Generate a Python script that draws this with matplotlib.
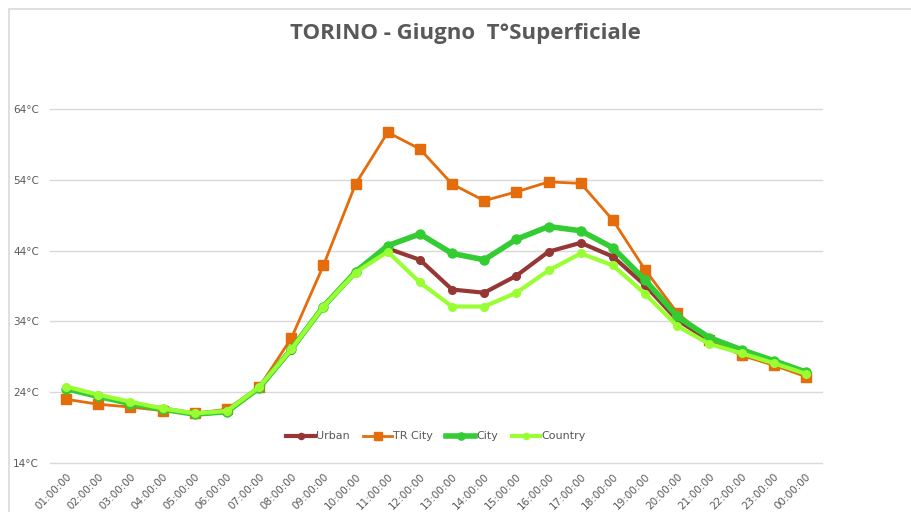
import matplotlib.pyplot as plt
from matplotlib.patches import Rectangle

# dati (°C)
hours = ["01:00:00", "02:00:00", "03:00:00", "04:00:00", "05:00:00", "06:00:00",
         "07:00:00", "08:00:00", "09:00:00", "10:00:00", "11:00:00", "12:00:00",
         "13:00:00", "14:00:00", "15:00:00", "16:00:00", "17:00:00", "18:00:00",
         "19:00:00", "20:00:00", "21:00:00", "22:00:00", "23:00:00", "00:00:00"]

urban = [24.5, 23.4, 22.4, 21.6, 20.9, 21.25, 24.6, 30.0, 36.1, 41.0, 44.3, 42.7,
         38.5, 38.05, 40.45, 43.85, 45.1, 43.15, 39.1, 34.2, 31.3, 29.6, 28.1, 26.5]
tr_city = [23.0, 22.3, 21.9, 21.4, 21.0, 21.6, 24.7, 31.6, 41.9, 53.4, 60.7, 58.35,
           53.4, 51.05, 52.3, 53.7, 53.5, 48.3, 41.3, 35.2, 31.4, 29.2, 27.8, 26.2]
city = [24.5, 23.4, 22.4, 21.6, 20.9, 21.25, 24.6, 30.05, 36.1, 41.0, 44.7, 46.35,
        43.6, 42.7, 45.6, 47.4, 46.8, 44.4, 39.85, 34.7, 31.7, 30.0, 28.45, 26.85]
country = [24.8, 23.65, 22.65, 21.7, 21.0, 21.35, 24.7, 30.05, 36.1, 40.9, 43.85, 39.5,
           36.1, 36.1, 38.05, 41.2, 43.6, 41.9, 37.9, 33.35, 30.8, 29.5, 28.1, 26.6]

y_ticks = [14, 24, 34, 44, 54, 64]

W, H = 911, 512
fig = plt.figure(figsize=(W / 100, H / 100), dpi=100)
fig.patch.set_facecolor("white")

# bordo del grafico (stile Excel)
fig.patches.append(Rectangle((9 / W, -0.1), 1.2, 1 - 9 / H + 0.1, transform=fig.transFigure,
                             fill=False, edgecolor="#d9d9d9", lw=1.2))

ax = fig.add_axes([50 / W, 1 - 463 / H, (822 - 50) / W, (463 - 109) / H])
x = list(range(len(hours)))

ax.plot(x, urban, color="#953735", lw=3, marker="o", ms=5.5, label="Urban", zorder=3)
ax.plot(x, tr_city, color="#E46C0A", lw=2, marker="s", ms=6.5, label="TR City", zorder=4)
ax.plot(x, city, color="#33CC33", lw=4, marker="o", ms=6.5, label="City", zorder=5)
ax.plot(x, country, color="#99FF33", lw=3, marker="o", ms=5.5, label="Country", zorder=6)

ax.set_xlim(-0.5, len(hours) - 0.5)
ax.set_ylim(14, 64)
ax.set_yticks(y_ticks)
ax.set_yticklabels([f"{v}°C" for v in y_ticks], fontsize=7.5, color="#595959")
ax.set_xticks(x)
ax.set_xticklabels(hours, rotation=45, ha="right", rotation_mode="anchor",
                   fontsize=7.5, color="#595959")
ax.tick_params(length=0, pad=6)
ax.tick_params(axis="y", pad=8)
ax.grid(axis="y", color="#d9d9d9", lw=1)
for gl in ax.get_ygridlines():
    gl.set_clip_on(False)
ax.set_axisbelow(True)
for s in ax.spines.values():
    s.set_visible(False)

leg = ax.legend(loc="center", bbox_to_anchor=(0.5, 0.075), ncol=4, frameon=False,
                fontsize=8, handlelength=2.6, handletextpad=0.1, columnspacing=1.2,
                markerscale=0.8)
for t in leg.get_texts():
    t.set_color("#595959")

fig.text(465 / W, 1 - 34 / H, "TORINO - Giugno  T°Superficiale", ha="center", va="center",
         fontsize=16, fontweight="bold", color="#595959", family="Open Sans")

fig.savefig("out.png", dpi=100)
